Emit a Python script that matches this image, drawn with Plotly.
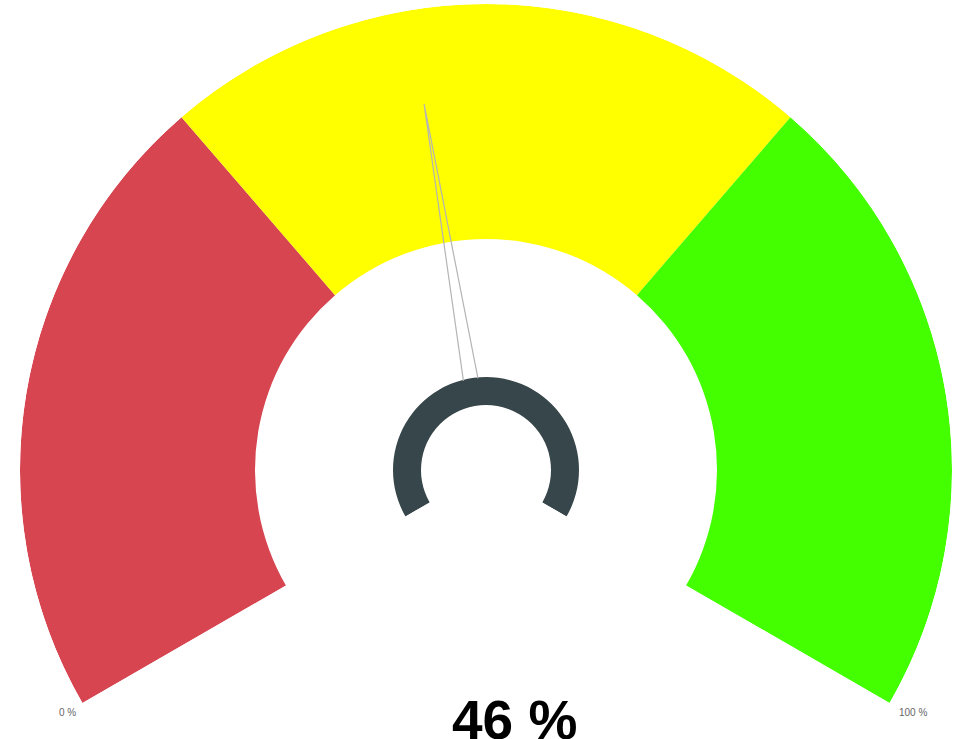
import plotly.graph_objects as go

# ---- data ----
band_edges = [0, 33, 67, 100]          # percent boundaries of the coloured bands
band_colors = ["#D64550", "#FFFF00", "#44FF00"]
value = 46                              # needle value (%)
min_label = "0 %"
max_label = "100 %"
value_label = "46 %"

# gauge geometry (radial units = pixels of the radius)
R_OUT, R_IN = 466, 231
HUB_OUT, HUB_IN = 93, 65
NEEDLE_TIP, NEEDLE_BASE, NEEDLE_HALF = 371, 92, 4.6
START_ANGLE, SPAN = 210, 240


def ang(v):
    return START_ANGLE - v / 100.0 * SPAN


fig = go.Figure()

for i, col in enumerate(band_colors):
    a0, a1 = ang(band_edges[i]), ang(band_edges[i + 1])
    fig.add_trace(go.Barpolar(
        r=[R_OUT - R_IN], base=[R_IN], theta=[(a0 + a1) / 2], width=[abs(a0 - a1)],
        marker=dict(color=col, line=dict(width=0)), hoverinfo="skip", showlegend=False))

# needle
na = ang(value)
fig.add_trace(go.Scatterpolar(
    r=[NEEDLE_BASE, NEEDLE_TIP, NEEDLE_BASE],
    theta=[na + NEEDLE_HALF, na, na - NEEDLE_HALF],
    mode="lines", line=dict(color="#b4b4b4", width=1.2),
    hoverinfo="skip", showlegend=False))

# hub
fig.add_trace(go.Barpolar(
    r=[HUB_OUT - HUB_IN], base=[HUB_IN], theta=[ang(50)], width=[SPAN],
    marker=dict(color="#37464A", line=dict(width=0)), hoverinfo="skip", showlegend=False))

W, H = 966, 739
fig.update_layout(
    width=W, height=H, margin=dict(l=0, r=0, t=0, b=0),
    paper_bgcolor="white", plot_bgcolor="white",
    polar=dict(
        domain=dict(x=[20 / W, 952 / W], y=[36 / H, 735 / H]),
        sector=[-30, 210], hole=0, bgcolor="white",
        radialaxis=dict(visible=False, range=[0, R_OUT]),
        angularaxis=dict(visible=False, direction="counterclockwise", rotation=0),
        barmode="overlay"),
    annotations=[
        dict(text=min_label, x=67 / W, y=(H - 712) / H, xref="paper", yref="paper",
             showarrow=False, font=dict(size=10, color="#666666", family="Liberation Sans, Arial"),
             xanchor="center", yanchor="middle"),
        dict(text=max_label, x=913 / W, y=(H - 712) / H, xref="paper", yref="paper",
             showarrow=False, font=dict(size=10, color="#666666", family="Liberation Sans, Arial"),
             xanchor="center", yanchor="middle"),
        dict(text="<b>" + value_label + "</b>", x=514 / W, y=(H - 720) / H, xref="paper", yref="paper",
             showarrow=False, font=dict(size=55, color="#000000", family="Liberation Sans, Arial"),
             xanchor="center", yanchor="middle"),
    ],
)

fig.write_html("out.html", config={"displayModeBar": False},
               post_script="document.body.style.margin='0';document.body.style.overflow='hidden';")
